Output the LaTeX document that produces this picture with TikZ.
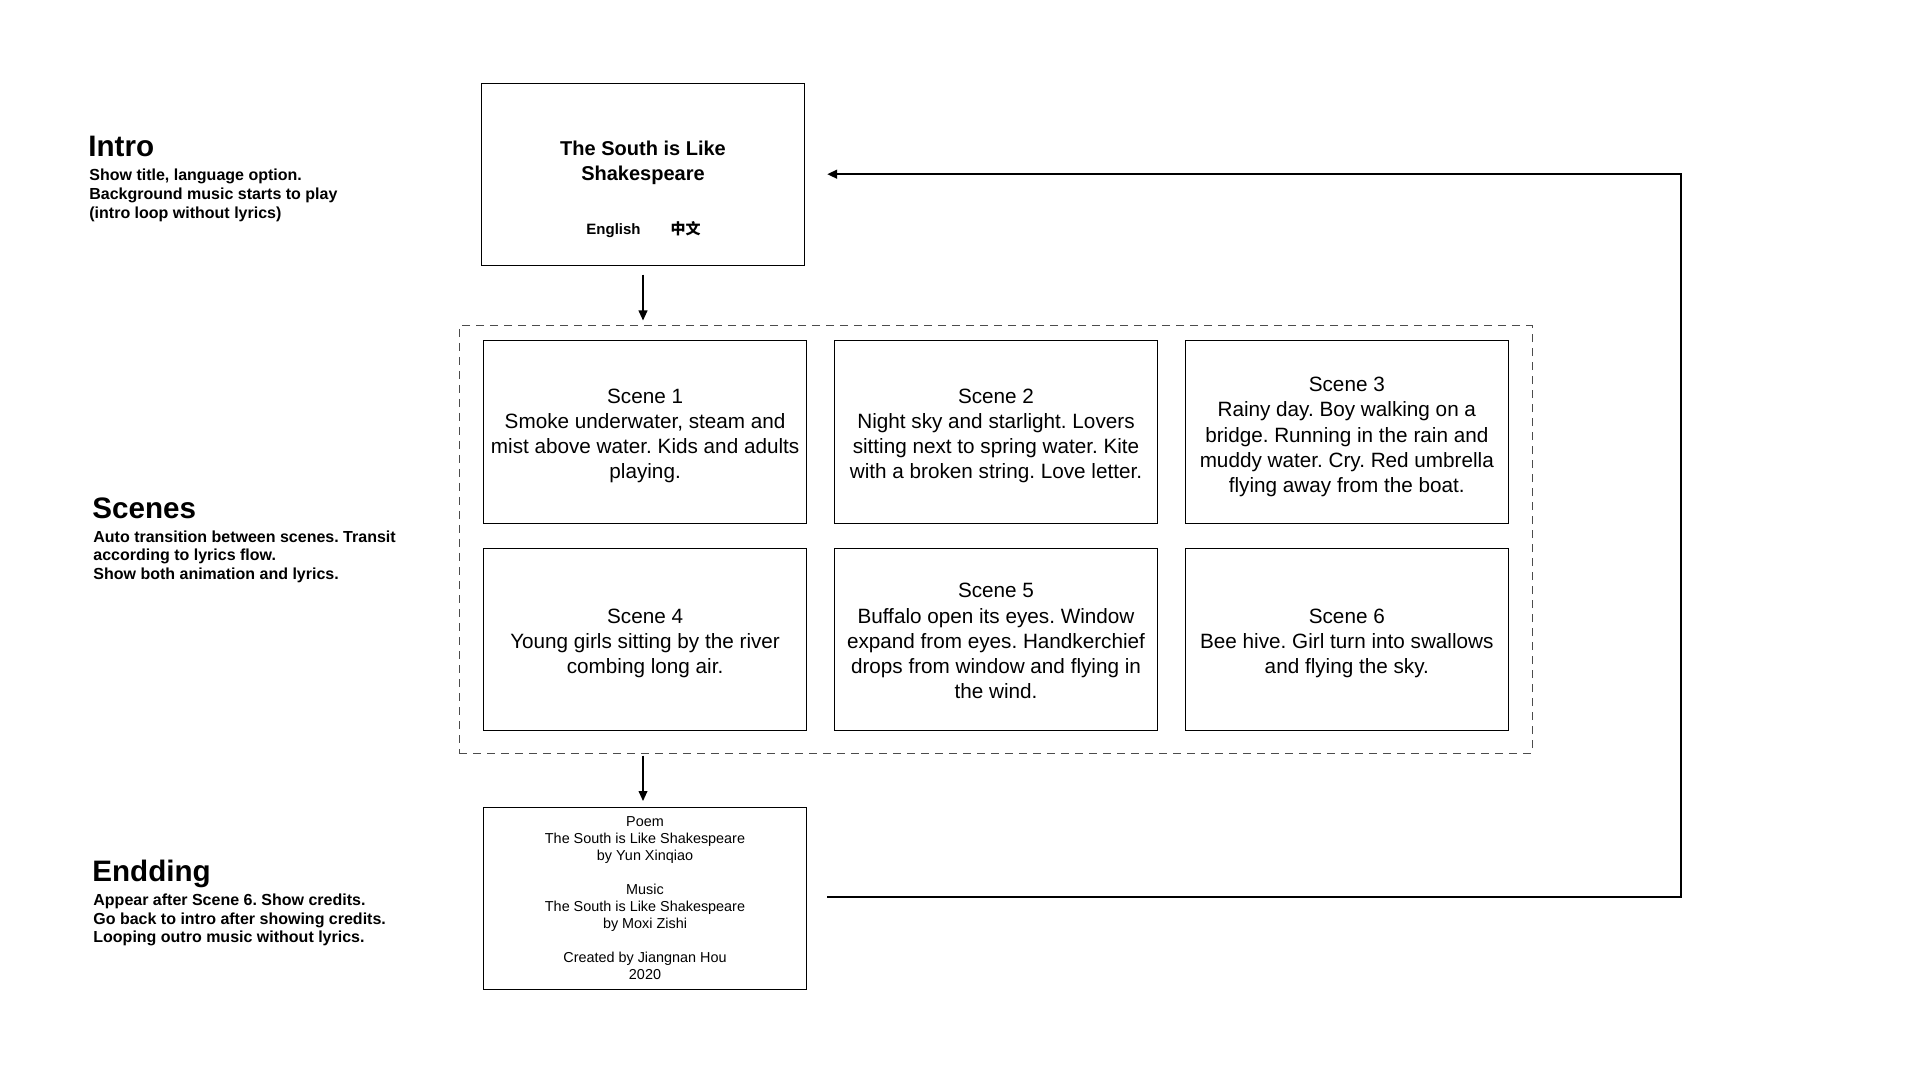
\documentclass[tikz,border=0pt]{standalone}
\usepackage{fontspec}
\setmainfont{Liberation Sans}
\newfontfamily\cjk{Noto Sans CJK SC}
\usetikzlibrary{arrows.meta,positioning}
\frenchspacing

\begin{document}
\begin{tikzpicture}[x=0.5pt,y=-0.5pt,
	box/.style={draw,line width=0.5pt,minimum width=161.5pt,minimum height=91pt,inner sep=0pt,align=center},
	scenetext/.style={inner sep=0pt,align=center,font=\fontsize{10.35}{12.6}\selectfont},
	credits/.style={box,font=\fontsize{7.2}{8.5}\selectfont},
	heading/.style={anchor=base west,inner sep=0pt,font=\bfseries\fontsize{14.8}{17}\selectfont},
	note/.style={anchor=north west,inner sep=0pt,align=left,font=\bfseries\fontsize{8}{9.35}\selectfont},
	flow/.style={line width=0.7pt,-{Triangle[length=5pt,width=4.4pt]}},
	back/.style={line width=1pt,-{Triangle[length=5pt,width=4.4pt]}}]
	\useasboundingbox (0,0) rectangle (1920,1080);

	% left column
	\node[heading] (introhead) at (88,156.7) {Intro};
	\node[note] (introtext) at (89,169) {Show title, language option.\\Background music starts to play\\(intro loop without lyrics)};
	\node[heading] (sceneshead) at (92,518.3) {Scenes};
	\node[note] (scenestext) at (93,530.2) {Auto transition between scenes. Transit\\according to lyrics flow.\\Show both animation and lyrics.};
	\node[heading] (endhead) at (92,881) {Endding};
	\node[note] (endtext) at (93,893.5) {Appear after Scene 6. Show credits.\\Go back to intro after showing credits.\\Looping outro music without lyrics.};

	% intro
	\node[box,minimum width=161.3pt,minimum height=90.85pt] (intro) at (643,174.2) {};
	\node[anchor=base,align=center,inner sep=0pt,font=\bfseries\fontsize{10}{12.25}\selectfont] (title) at (643,180.5) {The South is Like\\Shakespeare};
	\node[anchor=base,inner sep=0pt,font=\bfseries\fontsize{7.5}{9}\selectfont] (lang) at (643.5,235) {English\hspace{15pt}{\cjk 中文}};

	% scenes
	\node[draw=black!70,dash pattern=on 4pt off 3pt,line width=0.5pt,minimum width=536.5pt,minimum height=213.5pt,inner sep=0pt] (scenes) at (995.5,539.5) {};
	\node[box] (scene1) at (645.1,432) {};
	\node[box] (scene2) at (996,432) {};
	\node[box] (scene3) at (1346.8,432) {};
	\node[box] (scene4) at (645.1,639.5) {};
	\node[box] (scene5) at (996,639.5) {};
	\node[box] (scene6) at (1346.8,639.5) {};
	\node[scenetext] (scene1text) at ([yshift=-2pt]scene1.center) {Scene 1\\Smoke underwater, steam and\\mist above water. Kids and adults\\playing.};
	\node[scenetext] (scene2text) at ([yshift=-2pt]scene2.center) {Scene 2\\Night sky and starlight. Lovers\\sitting next to spring water. Kite\\with a broken string. Love letter.};
	\node[scenetext] (scene3text) at ([yshift=-2.5pt]scene3.center) {Scene 3\\Rainy day. Boy walking on a\\bridge. Running in the rain and\\muddy water. Cry. Red umbrella\\flying away from the boat.};
	\node[scenetext] (scene4text) at ([yshift=-2pt]scene4.center) {Scene 4\\Young girls sitting by the river\\combing long air.};
	\node[scenetext] (scene5text) at ([yshift=-0.8pt]scene5.center) {Scene 5\\Buffalo open its eyes. Window\\expand from eyes. Handkerchief\\drops from window and flying in\\the wind.};
	\node[scenetext] (scene6text) at ([yshift=-2pt]scene6.center) {Scene 6\\Bee hive. Girl turn into swallows\\and flying the sky.};

	% ending
	\node[credits] (ending) at (645,898.5) {Poem\\The South is Like Shakespeare\\by Yun Xinqiao\\[8.5pt]Music\\The South is Like Shakespeare\\by Moxi Zishi\\[8.5pt]Created by Jiangnan Hou\\2020};

	% arrows
	\coordinate (turn) at (1680.7,896.7);
	\draw[flow,shorten <=4.5pt,shorten >=2.5pt] (intro.south) -- (intro.south |- scenes.north);
	\draw[flow,shorten <=1pt,shorten >=3pt] (intro.south |- scenes.south) -- (intro.south |- ending.north);
	\draw[back,shorten <=10pt,shorten >=11.2pt] (ending.east |- turn) -- (turn) |- (intro.east);
\end{tikzpicture}
\end{document}
